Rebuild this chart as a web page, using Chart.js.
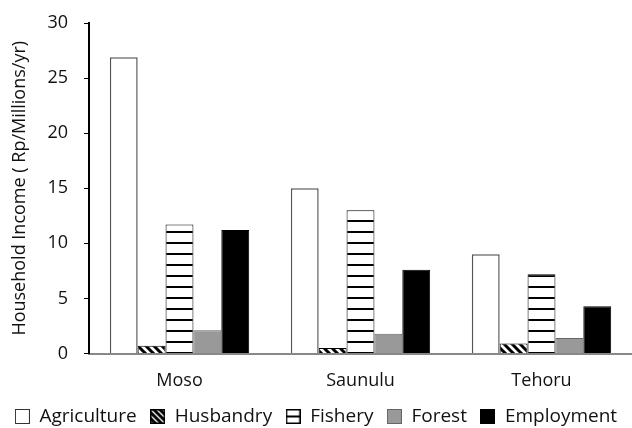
<!DOCTYPE html>
<html>
<head>
<meta charset="utf-8">
<script src="https://cdn.jsdelivr.net/npm/chart.js@4/dist/chart.umd.min.js"></script>
<style>
  body { margin: 0; background: #fff; }
  #wrap { width: 632px; height: 428px; }
</style>
</head>
<body>
<div id="wrap"><canvas id="myChart" width="632" height="428"></canvas></div>
<script>
// data
const villages = ['Moso', 'Saunulu', 'Tehoru'];
const agriculture = [26.9, 15.0, 9.0];
const husbandry = [0.7, 0.5, 0.9];
const fishery = [11.7, 13.0, 7.2];
const forest = [2.1, 1.8, 1.4];
const employment = [11.2, 7.6, 4.3];
const yTicks = [0, 5, 10, 15, 20, 25, 30];

const FONT = "'Open Sans', sans-serif";

// fill patterns
function makeCanvas(w, h) {
    let c = document.createElement('canvas');
    c.width = w; c.height = h;
    return c;
}
function diagPattern() {
    let c = makeCanvas(8, 8);
    let g = c.getContext('2d');
    g.fillStyle = '#fff'; g.fillRect(0, 0, 8, 8);
    g.strokeStyle = '#000'; g.lineWidth = 3;
    g.beginPath();
    g.moveTo(-2, -2); g.lineTo(10, 10);
    g.moveTo(-6, 2); g.lineTo(2, 10);
    g.moveTo(6, -2); g.lineTo(14, 6);
    g.stroke();
    return g.createPattern(c, 'repeat');
}
function lineBar() {
    let c = makeCanvas(4, 11);
    let g = c.getContext('2d');
    g.fillStyle = '#fff'; g.fillRect(0, 0, 4, 11);
    g.fillStyle = '#000'; g.fillRect(0, 0, 4, 2);
    return g.createPattern(c, 'repeat');
}

// legend swatches
function swatch(kind) {
    let c = makeCanvas(15, 15);
    let g = c.getContext('2d');
    g.lineWidth = 1;
    if (kind == 'agri') {
        g.fillStyle = '#fff'; g.fillRect(0, 0, 15, 15);
        g.strokeStyle = '#333'; g.strokeRect(0.5, 0.5, 14, 14);
    } else if (kind == 'hus') {
        g.fillStyle = '#fff'; g.fillRect(0, 0, 15, 15);
        g.strokeStyle = '#000'; g.lineWidth = 3;
        g.beginPath();
        for (let k = -15; k <= 15; k += 6) { g.moveTo(k, 0); g.lineTo(k + 15, 15); }
        g.stroke();
        g.lineWidth = 1.5; g.strokeRect(0.75, 0.75, 13.5, 13.5);
    } else if (kind == 'fish') {
        g.fillStyle = '#fff'; g.fillRect(0, 0, 15, 15);
        g.fillStyle = '#000'; g.fillRect(0, 6.5, 15, 2);
        g.strokeStyle = '#000'; g.lineWidth = 1.5; g.strokeRect(0.75, 0.75, 13.5, 13.5);
    } else if (kind == 'forest') {
        g.fillStyle = '#999'; g.fillRect(0, 0, 15, 15);
        g.strokeStyle = '#666'; g.strokeRect(0.5, 0.5, 14, 14);
    } else {
        g.fillStyle = '#000'; g.fillRect(0, 0, 15, 15);
    }
    return c;
}

const swatches = [swatch('agri'), swatch('hus'), swatch('fish'), swatch('forest'), swatch('emp')];

let myChart = new Chart(document.getElementById('myChart'), {
    type: 'bar',
    data: {
        labels: villages,
        datasets: [
            { label: 'Agriculture', data: agriculture, backgroundColor: '#fff', borderColor: '#555', borderWidth: 1.5 },
            { label: 'Husbandry', data: husbandry, backgroundColor: diagPattern(), borderColor: '#000', borderWidth: 1 },
            { label: 'Fishery', data: fishery, backgroundColor: lineBar(), borderColor: '#000', borderWidth: 1 },
            { label: 'Forest', data: forest, backgroundColor: '#999', borderColor: '#666', borderWidth: 1 },
            { label: 'Employment', data: employment, backgroundColor: '#000', borderColor: '#000', borderWidth: 1 }
        ]
    },
    options: {
        responsive: false,
        animation: false,
        layout: { padding: { top: 0, right: 0, left: 0, bottom: -8 } },
        datasets: { bar: { barPercentage: 1, categoryPercentage: 0.77, borderSkipped: 'bottom' } },
        scales: {
            x: {
                afterFit: s => { s.height = 40; },
                grid: { display: false, drawTicks: false },
                border: { color: '#888', width: 2 },
                ticks: { color: '#111', font: { family: FONT, size: 18 }, padding: 17 }
            },
            y: {
                min: 0, max: 30,
                afterBuildTicks: s => { s.ticks = yTicks.map(v => ({ value: v })); },
                afterFit: s => { s.width = 89; s.paddingTop = 23; },
                grid: { drawOnChartArea: false, drawTicks: true, tickLength: 5, color: '#000' },
                border: { color: '#000', width: 2 },
                ticks: { color: '#111', font: { family: FONT, size: 18 }, padding: 16 },
                title: {
                    display: true,
                    text: 'Household Income ( Rp/Millions/yr)',
                    color: '#111',
                    font: { family: FONT, size: 18 },
                    padding: { top: 9, bottom: 0 }
                }
            }
        },
        plugins: {
            tooltip: { enabled: false },
            legend: {
                position: 'bottom',
                labels: {
                    color: '#111',
                    font: { family: FONT, size: 19 },
                    usePointStyle: true,
                    pointStyleWidth: 15,
                    boxHeight: 15,
                    padding: 13.5,
                    generateLabels: chart => chart.data.datasets.map((ds, i) => ({
                        text: ds.label,
                        pointStyle: swatches[i],
                        fillStyle: '#fff',
                        strokeStyle: '#fff',
                        lineWidth: 0,
                        fontColor: '#111',
                        datasetIndex: i,
                        hidden: false
                    }))
                }
            }
        }
    }
});
</script>
</body>
</html>
